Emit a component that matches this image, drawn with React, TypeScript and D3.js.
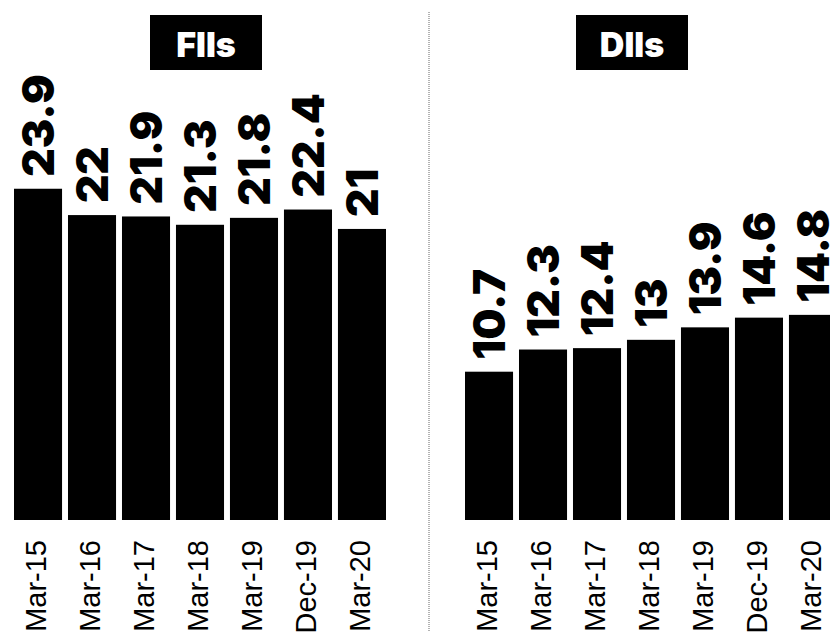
import React from "react";
import * as d3 from "d3";

const categories = ["Mar-15", "Mar-16", "Mar-17", "Mar-18", "Mar-19", "Dec-19", "Mar-20"];
const fiiValues = [23.9, 22, 21.9, 21.3, 21.8, 22.4, 21];
const diiValues = [10.7, 12.3, 12.4, 13, 13.9, 14.6, 14.8];
const panelTitles = ["FIIs", "DIIs"];

const W = 830;
const H = 632;
const BASE = 520;
const PX_PER_UNIT = 13.86;

const y = d3.scaleLinear().domain([0, 25]).range([BASE, BASE - 25 * PX_PER_UNIT]);

type PanelProps = {
  title: string;
  values: number[];
  x0: number;
  titleX: number;
};

function Panel({ title, values, x0, titleX }: PanelProps) {
  const x = d3.scaleBand<string>().domain(categories).range([x0, x0 + 372]).paddingInner(0.11).paddingOuter(0);
  const bw = x.bandwidth();
  return (
    <g>
      <rect x={titleX - 56} y={15} width={112} height={55} fill="#000" />
      <text
        x={titleX}
        y={57}
        textAnchor="middle"
        fill="#fff"
        fontFamily="Inter, 'Liberation Sans', sans-serif"
        fontWeight={900}
        fontSize={34}
      >
        {title}
      </text>
      {categories.map((c, i) => {
        const bx = x(c) as number;
        const cx = bx + bw / 2;
        const top = y(values[i]);
        return (
          <g key={c}>
            <rect x={bx} y={top} width={bw} height={y(0) - top} fill="#000" />
            <text
              transform={`translate(${cx},${top - 12}) rotate(-90)`}
              dy="0.36em"
              textAnchor="start"
              fontFamily="Inter, 'Liberation Sans', sans-serif"
              fontWeight={900}
              fontSize={44}
              fill="#000"
            >
              {values[i]}
            </text>
            <text
              transform={`translate(${cx - 2},${540}) rotate(-90)`}
              dy="0.36em"
              textAnchor="end"
              fontFamily="'Liberation Sans', Arial, sans-serif"
              fontSize={29}
              fill="#000"
            >
              {c}
            </text>
          </g>
        );
      })}
    </g>
  );
}

export default function App() {
  return (
    <svg
      width={W}
      height={H}
      style={{ position: "absolute", left: 0, top: 0, background: "#fff" }}
    >
      <rect width={W} height={H} fill="#fff" />
      <line x1={429} x2={429} y1={12} y2={H} stroke="#9a9a9a" strokeWidth={1.5} strokeDasharray="1,1" />
      <Panel title={panelTitles[0]} values={fiiValues} x0={14} titleX={206} />
      <Panel title={panelTitles[1]} values={diiValues} x0={465} titleX={632} />
    </svg>
  );
}
